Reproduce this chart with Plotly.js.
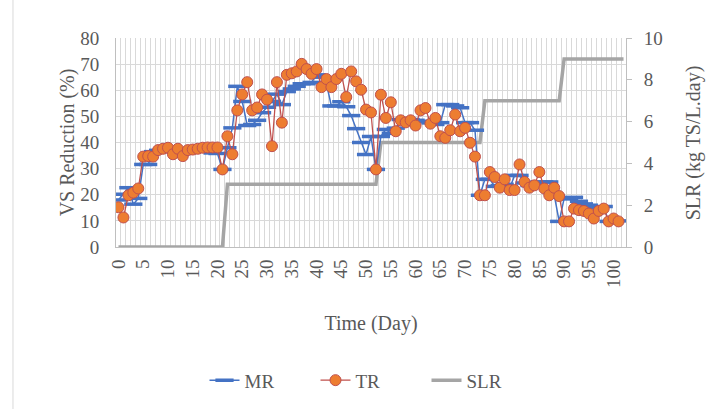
<!DOCTYPE html>
<html>
<head>
<meta charset="utf-8">
<script src="https://cdn.plot.ly/plotly-3.0.1.min.js"></script>
<style>html,body{margin:0;padding:0;background:#fff;}#chart{width:726px;height:409px;}</style>
</head>
<body>
<div id="chart"></div>
<script>
// Day index for the VS reduction series
const days = [];
for (let d = 0; d <= 101; d++) days.push(d);
const slrDays = [];
for (let d = 0; d <= 102; d++) slrDays.push(d);

// MR: VS reduction (%)
const mrValues = [18,20.2,22.7,16.4,18.6,31.6,31.6,36.5,37,37.5,
  37.5,36.5,37,36,36.5,37,37,37.5,37.5,36,
  35.8,29.7,38,45.6,61.5,55.7,46.5,46.9,48.5,51.4,
  53.5,55.7,58.5,54.5,59.5,60.5,61.5,62.5,62.5,63,
  65.9,65,62.5,54,54,55.6,53.7,50.3,45.3,40,
  35.4,42.3,29.7,42.3,45,43.5,45.5,48.8,48.5,48.8,
  48.5,48,48.1,47.5,46.9,47.6,54.5,54.5,54,53.3,
  47.6,47.6,44.7,19.8,25.9,25.9,23.2,23.5,24,22.5,
  27.4,27.4,24.5,23.5,24,24.9,24.9,24.9,20,9.8,
  18.5,18.5,19,17.5,16.5,16,15.2,15.2,15.5,9.8,
  10.5,10];

// TR: VS reduction (%)
const trValues = [15.2,11.3,19.8,20.8,22.4,34.6,34.8,34.6,37.1,37.6,
  38,35.5,37.6,34.8,37.1,37.3,37.6,38,38.1,38.1,
  38.1,29.7,42.4,35.5,52.3,58.4,63.1,52.3,53.4,58.4,
  56.4,38.6,63.1,47.6,65.9,66.5,67.2,70.1,68.1,66.3,
  68.1,61.2,64.3,61.2,64.3,66.3,57.4,67.2,63.4,60.2,
  52.6,51.5,29.7,58.3,49.4,55.4,44.3,48.5,47.7,48.5,
  46.5,52.3,53.2,47.2,49.4,42.4,41.8,44.7,50.7,44.3,
  45.6,39.9,34.6,19.8,19.8,28.7,26.8,22.7,25.9,21.8,
  21.8,31.6,24.9,22.7,23.6,28.7,22.4,19.8,22.7,19.5,
  9.8,9.8,14.7,14.1,13.8,12.8,10.9,13.8,14.7,9.8,
  10.9,9.8];

// SLR (kg TS/L.day)
const slrValues = slrDays.map(d => d <= 21 ? 0 : d <= 52 ? 3 : d <= 73 ? 5 : d <= 89 ? 7 : 9);

const xTickVals = [0,5,10,15,20,25,30,35,40,45,50,55,60,65,70,75,80,85,90,95,100];

const FONT = "Liberation Serif";
const GREY = '#595959';

const traces = [
  {x: days, y: mrValues, name: 'MR', type: 'scatter', mode: 'lines+markers', yaxis: 'y2',
   line: {color: '#4472c4', width: 1.5},
   marker: {symbol: 'line-ew', size: 13, color: '#4472c4', line: {color: '#4472c4', width: 3.5}}},
  {x: days, y: trValues, name: 'TR', type: 'scatter', mode: 'lines+markers', yaxis: 'y2',
   line: {color: '#c0504d', width: 1.25},
   marker: {symbol: 'circle', size: 11, color: '#ed7d31', line: {color: '#c0504d', width: 1}}},
  {x: slrDays, y: slrValues, name: 'SLR', type: 'scatter', mode: 'lines', yaxis: 'y',
   line: {color: '#a5a5a5', width: 3.5}}
];

const layout = {
  width: 726, height: 409,
  margin: {l: 116, r: 100, t: 38, b: 161},
  paper_bgcolor: '#ffffff', plot_bgcolor: '#ffffff',
  font: {family: FONT, color: GREY, size: 19},
  showlegend: true,
  legend: {orientation: 'h', x: 0.5, xanchor: 'center', y: -0.63, yanchor: 'middle',
           font: {family: FONT, size: 19, color: GREY}, traceorder: 'normal',
           entrywidth: 66, entrywidthmode: 'pixels'},
  xaxis: {
    range: [-0.5, 102.5], tickmode: 'array', tickvals: xTickVals, ticktext: xTickVals.map(String),
    tickangle: -90, showgrid: false, zeroline: false,
    showline: true, linecolor: '#bfbfbf', linewidth: 1,
    ticks: 'outside', ticklen: 4, tickcolor: 'rgba(0,0,0,0)',
    tickfont: {family: FONT, size: 19, color: GREY},
    minor: {tick0: 0.5, dtick: 1, showgrid: true, gridcolor: '#d9d9d9', gridwidth: 1, ticks: ''},
    title: {text: 'Time (Day)', font: {family: FONT, size: 20, color: GREY}, standoff: 28},
    automargin: false
  },
  yaxis: {
    range: [0, 10], side: 'right', tickmode: 'linear', tick0: 0, dtick: 2,
    showgrid: false, zeroline: false, showline: true, linecolor: '#bfbfbf', linewidth: 1,
    ticks: 'outside', ticklen: 5, tickcolor: '#bfbfbf',
    ticklabelstandoff: 8,
    tickfont: {family: FONT, size: 19, color: GREY},
    automargin: false
  },
  yaxis2: {
    range: [0, 80], side: 'left', overlaying: 'y', tickmode: 'linear', tick0: 0, dtick: 10,
    showgrid: true, gridcolor: '#d9d9d9', gridwidth: 1, zeroline: false,
    showline: true, linecolor: '#bfbfbf', linewidth: 1,
    ticks: 'outside', ticklen: 12, tickcolor: 'rgba(0,0,0,0)',
    tickfont: {family: FONT, size: 19, color: GREY},
    title: {text: 'VS Reduction (%)', font: {family: FONT, size: 20, color: GREY}, standoff: 0},
    automargin: false
  },
  annotations: [
    {text: 'SLR (kg TS/L.day)', xref: 'paper', yref: 'paper', x: 1.133, y: 0.5,
     xanchor: 'center', yanchor: 'middle', textangle: -90, showarrow: false,
     font: {family: FONT, size: 20, color: GREY}}
  ],
  shapes: [
    {type: 'line', xref: 'paper', yref: 'paper', x0: -0.202, x1: -0.202, y0: 1.2, y1: -0.8,
     line: {color: '#d9d9d9', width: 1}}
  ]
};

Plotly.newPlot('chart', traces, layout, {displayModeBar: false, staticPlot: true});
</script>
</body>
</html>
